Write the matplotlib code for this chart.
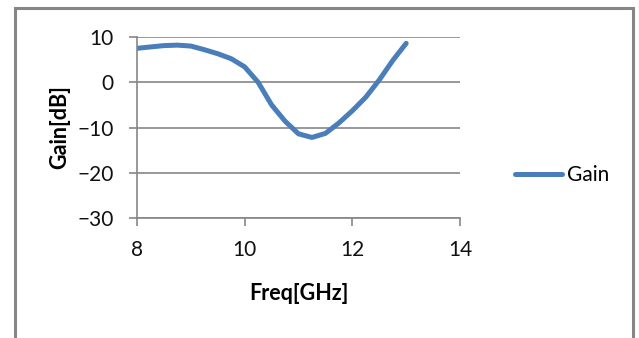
import numpy as np
import matplotlib
matplotlib.use('Agg')
import matplotlib.pyplot as plt
from matplotlib.patches import Rectangle

# Gain vs frequency
freq = [8.0, 8.25, 8.5, 8.75, 9.0, 9.25, 9.5, 9.75, 10.0, 10.25, 10.5,
        10.75, 11.0, 11.25, 11.5, 11.75, 12.0, 12.25, 12.5, 12.75, 13.0]
gain = [7.5, 7.8, 8.1, 8.2, 8.0, 7.2, 6.3, 5.2, 3.4, 0.0, -5.0,
        -8.6, -11.4, -12.2, -11.3, -9.0, -6.3, -3.3, 0.5, 4.8, 8.6]
x_ticks = [8, 10, 12, 14]
y_ticks = [-30, -20, -10, 0, 10]

plt.rcParams['font.family'] = ['Lato', 'DejaVu Sans']

fig = plt.figure(figsize=(6.39, 3.38), dpi=100)
W, H = 639, 338
ax = fig.add_axes([137 / W, 1 - 218 / H, (460 - 137) / W, (218 - 37) / H])

ax.plot(freq, gain, color='#4a7ebb', linewidth=3.6, solid_capstyle='round',
        solid_joinstyle='round', label='Gain')

ax.set_xlim(8, 14)
ax.set_ylim(-30, 10)
ax.set_xticks(x_ticks)
ax.set_yticks(y_ticks)
ax.grid(axis='y', color='#868686', linewidth=1.2)
ax.set_axisbelow(True)
for s in ['top', 'right']:
    ax.spines[s].set_visible(False)
for s in ['left', 'bottom']:
    ax.spines[s].set_color('#868686')
    ax.spines[s].set_linewidth(1.2)
ax.tick_params(axis='both', colors='#868686', length=6, width=1.2, labelsize=15, labelcolor='#111111')
ax.tick_params(axis='y', pad=11)
ax.tick_params(axis='x', pad=10)

ax.set_xlabel('Freq[GHz]', fontsize=15.5, fontweight='bold', va='center')
ax.set_ylabel('Gain[dB]', fontsize=15.5, fontweight='bold', va='center')
ax.xaxis.set_label_coords(0.5, (218 - 294) / 181)
ax.yaxis.set_label_coords((60 - 137) / 323, 0.5)

fig.legend(loc='center left', bbox_to_anchor=(507 / W, 1 - 175 / H), frameon=False,
           fontsize=15, handlelength=2.25, handletextpad=0.22, borderaxespad=0)

# outer chart border (cut off at the bottom)
fig.patches.append(Rectangle((15 / W, -0.1), (633 - 15) / W, 1.1 - 8 / H,
                             transform=fig.transFigure, fill=False,
                             edgecolor='#868686', linewidth=2.2))

fig.savefig('out.png', dpi=100)
